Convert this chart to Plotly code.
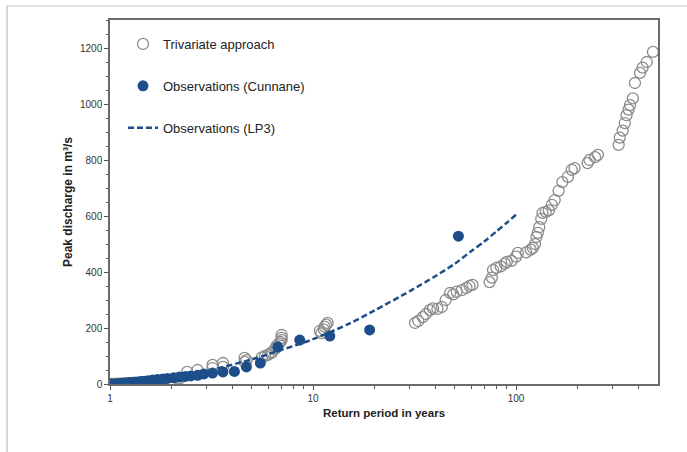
import plotly.graph_objects as go

# ---- Data ----
# Trivariate approach (return period in years, peak discharge m3/s)
tri_T = [1.02, 1.05, 1.08, 1.12, 1.16, 1.2, 1.25, 1.3, 1.36, 1.42, 1.5, 1.6, 1.7, 1.8, 2.0,
         2.2, 2.4, 2.7, 3.2, 3.2, 3.6, 3.6, 4.6, 4.6, 4.7,
         5.6, 5.8, 6.0, 6.2, 6.3, 6.5, 6.6, 6.8, 6.9, 7.0, 7.0, 7.0,
         10.8, 11.0, 11.3, 11.4, 11.6, 11.8,
         31.8, 33.0, 34.7, 36.0, 37.6, 39.0, 41.0, 43.1, 45.0, 47.3, 49.0, 51.0, 54.0, 57.0, 59.0, 61.0,
         74.0, 76.0, 77.0, 80.0, 84.0, 88.0, 90.0, 95.0, 100.0, 102.0,
         112.0, 118.0, 121.0, 124.0, 126.0, 128.0, 130.0, 133.0, 135.0, 140.0, 145.0, 150.0, 155.0,
         162.0, 169.0, 180.0, 188.0, 194.0,
         225.0, 230.0, 245.0, 253.0,
         320.0, 324.0, 335.0, 343.0, 350.0, 358.0, 364.0, 376.0, 385.0, 408.0, 420.0, 440.0, 472.0]
tri_Q = [0, 0, 1, 1, 2, 2, 3, 3, 4, 4, 4, 4, 4, 5, 14,
         20, 43, 50, 57, 68, 61, 75, 79, 93, 85,
         95, 100, 104, 110, 114, 125, 135, 145, 150, 157, 165, 175,
         190, 182, 195, 205, 212, 218,
         218, 225, 239, 250, 264, 270, 268, 275, 300, 325, 320, 330, 335, 343, 350, 354,
         364, 380, 407, 415, 420, 430, 436, 440, 455, 468,
         470, 480, 486, 500, 525, 540, 560, 590, 611, 615, 620, 640, 657,
         690, 721, 740, 765, 771,
         789, 800, 810, 818,
         854, 880, 905, 932, 960, 980, 996, 1020, 1075, 1111, 1130, 1150, 1186]

# Observations (Cunnane plotting positions)
obs_T = [52.0, 19.0, 12.1, 8.6, 6.7, 5.5, 4.7, 4.1, 3.6, 3.2, 2.9, 2.7, 2.5, 2.35, 2.2,
         2.06, 1.92, 1.82, 1.71, 1.62, 1.54, 1.47, 1.41, 1.34, 1.29, 1.24, 1.2, 1.15, 1.11, 1.08, 1.04, 1.01]
obs_Q = [528, 193, 171, 157, 132, 75, 61, 45, 43, 39, 36, 31, 29, 27, 25,
         22, 20, 18, 16, 14, 12, 10, 9, 7, 6, 5, 4, 3, 2, 1, 0, 0]

# Observations (LP3 fitted curve)
lp3_T = [1.01, 1.5, 2.0, 3.0, 5.0, 7.0, 10.0, 15.0, 20.0, 30.0, 40.0, 50.0, 60.0, 70.0, 80.0, 90.0, 100.0]
lp3_Q = [0, 12, 25, 47, 88, 122, 160, 215, 262, 332, 385, 430, 474, 510, 545, 576, 605]

x_tickvals = [1, 10, 100]
x_minor = [2, 3, 4, 5, 6, 7, 8, 9, 20, 30, 40, 50, 60, 70, 80, 90, 200, 300, 400]
y_tickvals = [0, 200, 400, 600, 800, 1000, 1200]

BLUE = "#1d4e89"
GRAY = "#8c8c8c"

fig = go.Figure()

fig.add_trace(go.Scatter(
    x=tri_T, y=tri_Q, mode="markers", name="Trivariate approach",
    legendgroup="a", legendrank=1,
    marker=dict(symbol="circle-open", size=11, color=GRAY, line=dict(width=1.3, color=GRAY)),
))
fig.add_trace(go.Scatter(
    x=lp3_T, y=lp3_Q, mode="lines", name="Observations (LP3)",
    legendgroup="c", legendrank=3,
    line=dict(color=BLUE, width=2.5, dash="6px,3px", shape="spline", smoothing=0.8),
))
fig.add_trace(go.Scatter(
    x=obs_T, y=obs_Q, mode="markers", name="Observations (Cunnane)",
    legendgroup="b", legendrank=2,
    marker=dict(symbol="circle", size=11, color=BLUE),
))

axis_line = dict(showline=True, linecolor="#6a6a6a", linewidth=1.5, mirror=True,
                 showgrid=False, zeroline=False)

fig.update_layout(
    width=687, height=452,
    margin=dict(l=110, r=29, t=20, b=68),
    paper_bgcolor="white", plot_bgcolor="white",
    font=dict(family="Liberation Sans, Arial, sans-serif", color="#222"),
    showlegend=True,
    legend=dict(
        x=(123 - 110) / 548, xanchor="left",
        y=(384 - 29) / 364, yanchor="top",
        bgcolor="rgba(0,0,0,0)", borderwidth=0,
        font=dict(size=13, color="#222"),
        traceorder="grouped", tracegroupgap=22, itemwidth=30,
    ),
    xaxis=dict(
        type="log", range=[0, 2.69897],
        tickvals=x_tickvals, ticktext=[str(v) for v in x_tickvals],
        ticks="outside", ticklen=4, tickcolor="#555", tickwidth=1,
        minor=dict(tickvals=x_minor, ticks="outside", ticklen=3, tickcolor="#555"),
        tickfont=dict(size=10, color="#333"),
        title=dict(text="<b>Return period in years</b>", font=dict(size=11.5, color="#222"), standoff=6),
        **axis_line,
    ),
    yaxis=dict(
        range=[0, 1300],
        tickvals=y_tickvals,
        ticks="outside", ticklen=4, tickcolor="#555", tickwidth=1,
        minor=dict(dtick=50, ticks="outside", ticklen=2, tickcolor="#555"),
        tickfont=dict(size=10, color="#333"),
        title=dict(text="<b>Peak discharge in m³/s</b>", font=dict(size=12, color="#222"), standoff=5),
        **axis_line,
    ),
)

# screenshot frame lines of the reference page
fig.add_shape(type="line", xref="paper", yref="paper",
              x0=(7 - 110) / 548, x1=(687 - 110) / 548, y0=(384 - 6) / 364, y1=(384 - 6) / 364,
              line=dict(color="#c8c8c8", width=1), layer="below")
fig.add_shape(type="line", xref="paper", yref="paper",
              x0=(7 - 110) / 548, x1=(7 - 110) / 548, y0=(384 - 6) / 364, y1=(384 - 452) / 364,
              line=dict(color="#b0b0b0", width=1), layer="below")

fig.write_html("out.html")
